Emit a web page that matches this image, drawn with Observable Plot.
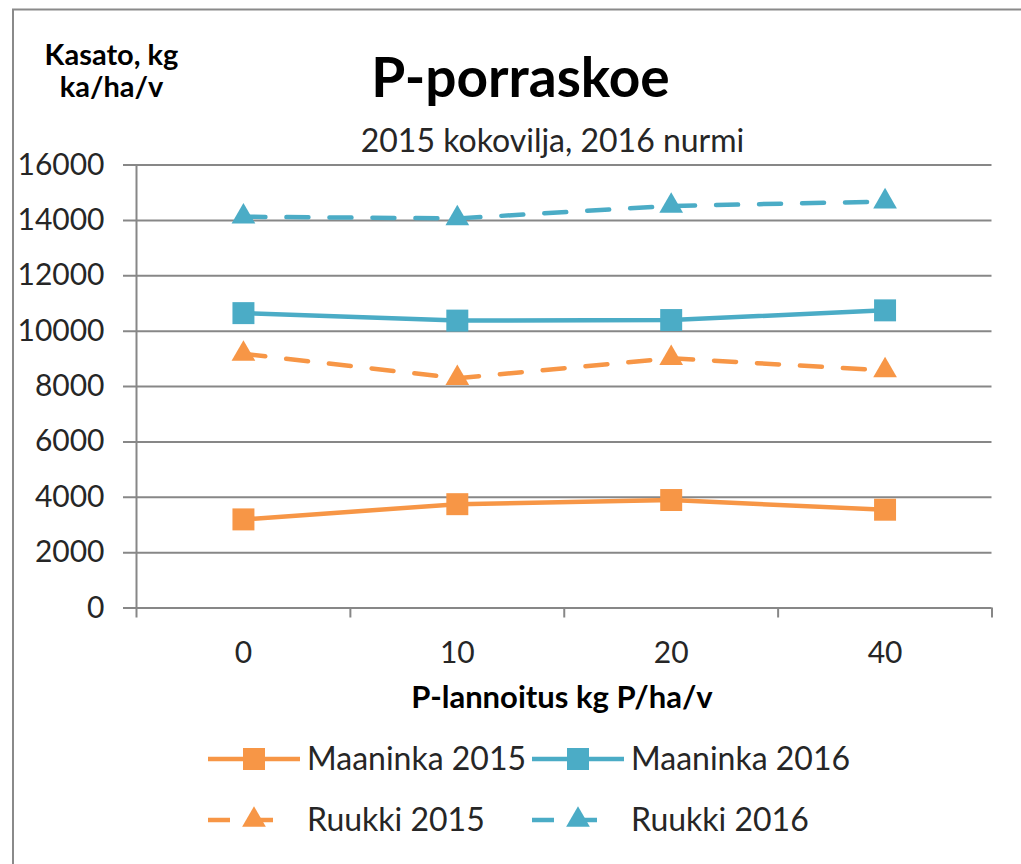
<!DOCTYPE html>
<html><head><meta charset="utf-8">
<script src="https://cdn.jsdelivr.net/npm/d3@7"></script>
<script src="https://cdn.jsdelivr.net/npm/@observablehq/plot@0.6"></script>
<style>
html,body{margin:0;padding:0;background:#fff;overflow:hidden;}
#chart{position:relative;width:1021px;height:864px;overflow:hidden;}
</style></head><body><div id="chart"></div>
<script>
// ---- data ----
const categories = ["0", "10", "20", "40"];
const seriesNames = ["Maaninka 2015", "Maaninka 2016", "Ruukki 2015", "Ruukki 2016"];
const maaninka2015 = [3200, 3750, 3900, 3550];
const maaninka2016 = [10650, 10380, 10400, 10750];
const ruukki2015 = [9180, 8300, 9020, 8580];
const ruukki2016 = [14130, 14070, 14520, 14680];
const yTicks = [0, 2000, 4000, 6000, 8000, 10000, 12000, 14000, 16000];
const titleText = "P-porraskoe";
const subtitleText = "2015 kokovilja, 2016 nurmi";
const yTitleLines = ["Kasato, kg", "ka/ha/v"];
const xTitleText = "P-lannoitus kg P/ha/v";

// ---- styles ----
const seriesColors = ["#F79646", "#4BACC6", "#F79646", "#4BACC6"];
const seriesSymbols = ["square", "square", "triangle", "triangle"];
const seriesDashed = [false, false, true, true];
const gridColor = "#878787";
const textColor = "#262626";
const FONT = "Lato, 'Open Sans', sans-serif";

const valuesBySeries = [maaninka2015, maaninka2016, ruukki2015, ruukki2016];
const data = [];
seriesNames.forEach((s, k) => {
  valuesBySeries[k].forEach((v, i) => data.push({series: s, i, value: v, dashed: seriesDashed[k], symbol: seriesSymbols[k]}));
});

const W = 1021, H = 864;
const mLeft = 136, mRight = 29.5, mTop = 164.5, mBottom = 256.5;
const catIdx = d3.range(categories.length);
const boundaries = d3.range(categories.length + 1).map(i => i - 0.5);

const chart = Plot.plot({
  width: W, height: H,
  marginLeft: mLeft, marginRight: mRight, marginTop: mTop, marginBottom: mBottom,
  style: {fontFamily: FONT, background: "white", color: textColor},
  x: {type: "linear", domain: [-0.5, categories.length - 0.5], label: null},
  y: {domain: [0, 16000], label: null},
  color: {domain: seriesNames, range: seriesColors},
  symbol: {domain: seriesNames, range: seriesSymbols},
  marks: [
    Plot.ruleY(yTicks, {stroke: gridColor, strokeWidth: 2, insetLeft: -13}),
    Plot.ruleX([-0.5], {stroke: gridColor, strokeWidth: 2}),
    Plot.axisX(boundaries, {tickSize: 10, tickFormat: () => "", stroke: gridColor, strokeWidth: 2}),
    Plot.axisX(catIdx, {tickSize: 0, tickPadding: 34, tickFormat: i => categories[i], fontSize: 30, fill: textColor}),
    Plot.axisY(yTicks, {tickSize: 0, tickPadding: 32, fontSize: 30, fill: textColor, tickFormat: d => String(d)}),
    Plot.line(data.filter(d => !d.dashed), {x: "i", y: "value", z: "series", stroke: "series", strokeWidth: 4.5}),
    Plot.line(data.filter(d => d.dashed), {x: "i", y: "value", z: "series", stroke: "series", strokeWidth: 4.5, strokeDasharray: "22,21"}),
    Plot.dot(data.filter(d => d.symbol === "square"), {x: "i", y: "value", symbol: "series", fill: "series", r: 12.4}),
    Plot.dot(data.filter(d => d.symbol === "triangle"), {x: "i", y: "value", symbol: "series", fill: "series", r: 8.8})
  ]
});

const svg = d3.select(chart);
// cover right edge, then draw outer frame (left and top edge only)
svg.append("rect").attr("x", 1000).attr("y", 0).attr("width", 40).attr("height", H).attr("fill", "#fff");
svg.append("path").attr("d", `M13,${H + 10} V9.5 H${W + 20}`).attr("fill", "none").attr("stroke", "#8a8a8a").attr("stroke-width", 2);

function addText(str, x, y, size, weight, anchor = "middle", color = textColor) {
  svg.append("text").attr("x", x).attr("y", y).attr("text-anchor", anchor)
    .attr("font-family", FONT).attr("font-size", size).attr("font-weight", weight)
    .attr("fill", color).text(str);
}
addText(titleText, 520.5, 97, 55, 700, "middle", "#000");
addText(subtitleText, 552.5, 151.5, 32, 400);
addText(xTitleText, 562, 708, 31, 700, "middle", "#000");

// y-axis title as one text with two lines
const yt = svg.append("text").attr("text-anchor", "middle").attr("font-family", FONT)
  .attr("font-size", 29).attr("font-weight", 700).attr("fill", "#000");
yTitleLines.forEach((line, j) => {
  yt.append("tspan").attr("x", 111.5).attr("y", 65 + j * 31.5).text(line);
});

// legend
const legendPos = [[208, 759], [532, 759], [208, 820], [532, 820]];
seriesNames.forEach((s, k) => {
  const [x0, y0] = legendPos[k];
  const g = svg.append("g");
  g.append("line").attr("x1", x0).attr("x2", seriesDashed[k] ? x0 + 68 : x0 + 92)
    .attr("y1", y0).attr("y2", y0).attr("stroke", seriesColors[k]).attr("stroke-width", 4.5)
    .attr("stroke-dasharray", seriesDashed[k] ? "22,21" : null);
  const r = seriesSymbols[k] === "square" ? 12.4 : 8.8;
  const sym = seriesSymbols[k] === "square" ? d3.symbolSquare : d3.symbolTriangle;
  g.append("path").attr("transform", `translate(${x0 + 46},${y0})`)
    .attr("d", d3.symbol(sym, Math.PI * r * r)()).attr("fill", seriesColors[k]);
  g.append("text").attr("x", x0 + 99).attr("y", y0 + 11).attr("text-anchor", "start")
    .attr("font-family", FONT).attr("font-size", 32).attr("fill", textColor).text(s);
});

document.getElementById("chart").appendChild(chart);
</script>
</body></html>
